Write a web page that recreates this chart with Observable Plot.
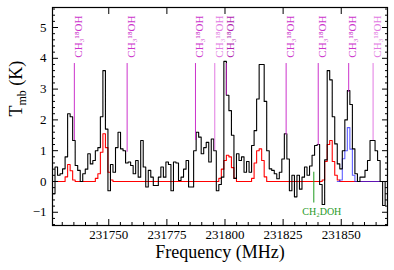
<!DOCTYPE html>
<html><head><meta charset="utf-8">
<script src="https://cdn.jsdelivr.net/npm/d3@7"></script>
<script src="https://cdn.jsdelivr.net/npm/@observablehq/plot@0.6"></script>
<style>body{margin:0;background:#fff}</style>
</head><body><div id="chart"></div>
<script>
// Spectral channel grid (MHz): left edge of first channel and channel width
const chanFreq0 = 231725.8;
const chanWidth = 1.084;

// Observed spectrum, T_mb (K), one value per channel
const observed = [
 -0.4, 0.47, 0.2, 0.25, 0.41, 0.8, 2.2, 2.1, 1.33, 0.52,
 0.36, 0.0, 0.25, 0.4, 0.9, 0.57, 0.68, 1.0, 1.1, 2.1,
 3.6, 1.7, -0.3, 0.55, 0.3, 1.1, 1.6, 1.06, 1.0, 0.6,
 0.63, 0.52, 0.25, 0.68, 0.14, 1.33, 0.47, -0.18, 0.36, 0.14,
 -0.13, -0.13, 0.14, 0.47, 0.14, 0.63, 0.55, -0.3, 0.63, 0.6,
 0.03, 0.14, 0.4, 0.68, -0.18, -0.18, 1.0, 1.6, 1.44, 0.9,
 1.1, 1.27, 0.63, 1.38, 1.0, -0.3, -0.1, 0.14, 3.9, 2.8,
 2.3, 1.5, 0.1, 0.9, 0.68, 0.8, 0.3, 0.65, 0.3, 1.17,
 1.65, 2.68, 3.8, 3.8, 2.6, 1.0, 0.41, 0.36, 0.25, 0.09,
 0.3, 0.73, 1.55, 0.73, -0.3, 0.2, -0.5, 0.2, -0.25, 0.14,
 0.47, 0.2, 0.5, 0.85, 1.17, 1.2, -0.1, -0.75, 0.7, 3.6,
 3.3, 2.1, 1.22, 0.57, 0.41, 1.0, 2.0, 2.95, 2.5, 1.06,
 0.25, 0.0, 0.14, 0.14, 0.36, 0.68, 1.33, 1.33, 1.0, 0.68,
 0.0, -0.78, 0.0, 0.8
];

// Red model (CH3-18OH), same channels
const modelRed = [
 0, 0, 0, 0, 0, 0.15, 0.55, 0.35, 0.05, 0,
 0, 0, 0, 0, 0, 0, 0, 0.1, 0.25, 0.95,
 1.55, 1.1, 0.3, 0.05, 0, 0, 0, 0, 0, 0,
 0, 0, 0, 0, 0, 0, 0, 0, 0, 0,
 0, 0, 0, 0, 0, 0, 0, 0, 0, 0,
 0, 0, 0, 0, 0, 0, 0, 0, 0, 0,
 0, 0, 0, 0, 0, 0, 0.1, 0.4, 0.68, 0.85,
 0.8, 0.45, 0.1, 0, 0, 0, 0, 0, 0, 0.1,
 0.6, 1.0, 1.06, 0.68, 0.15, 0, 0, 0, 0, 0,
 0, 0, 0, 0, 0, 0, 0, 0, 0, 0,
 0, 0, 0, 0, 0, 0, 0, 0.05, 0.65, 1.2,
 1.33, 0.65, 0.2, 0.05, 0, 0, 0, 0, 0, 0,
 0, 0, 0, 0, 0, 0, 0, 0, 0, 0,
 0, 0, 0, 0
];

// Blue model, starting at channel 113
const blueStart = 113;
const modelBlue = [
 0, 0.05, 0.74, 1.0, 1.75, 1.05, 0.2, 0, 0, 0,
 0, 0, 0, 0, 0, 0, 0, 0, 0, 0, 0
];

// CH3-18OH line markers
const lineFreqs = [231735.2, 231757.9, 231787.3, 231795.6, 231800.6, 231826.3, 231840.1, 231853.2, 231863.7];
const lineEnds  = [1.33, 0.95, 1.33, 1.0, 2.8, 1.5, 1.17, 2.9, 1.33];
const lineTop = 3.83;
const lineColors = ["#cc33cc", "#cc33cc", "#cc33cc", "#e27ae2", "#b01eb0", "#cc33cc", "#cc33cc", "#cc33cc", "#e27ae2"];
const lineLabel = "CH₃¹⁸OH";

// CH2DOH marker
const ch2dohFreq = [231838.2];
const ch2dohTop = 0.3;
const ch2dohBottom = -0.7;
const ch2dohLabel = "CH₂DOH";

// Axes
const xTicks = [231750, 231775, 231800, 231825, 231850];
const xMinor = [231730, 231735, 231740, 231745, 231755, 231760, 231765, 231770, 231780, 231785, 231790, 231795,
  231805, 231810, 231815, 231820, 231830, 231835, 231840, 231845, 231855, 231860, 231865];
const yTicks = [-1, 0, 1, 2, 3, 4, 5];
const yMinor = [-1.4, -1.2, -0.8, -0.6, -0.4, -0.2, 0.2, 0.4, 0.6, 0.8, 1.2, 1.4, 1.6, 1.8, 2.2, 2.4, 2.6, 2.8,
  3.2, 3.4, 3.6, 3.8, 4.2, 4.4, 4.6, 4.8, 5.2, 5.4, 5.6];
const xDomain = [231725.8, 231869.9];
const yDomain = [-1.43, 5.65];
const xLabel = "Frequency (MHz)";
const yLabel = "Tmb (K)";

const obsRows = observed.map((v, i) => ({f: chanFreq0 + i * chanWidth, v}));
const redRows = modelRed.map((v, i) => ({f: chanFreq0 + i * chanWidth, v}));
const blueRows = modelBlue.map((v, i) => ({f: chanFreq0 + (blueStart + i) * chanWidth, v}));
const lines = lineFreqs.map((f, i) => ({f, top: lineTop, end: lineEnds[i], c: lineColors[i]}));

const minus = d => d < 0 ? "\u2212" + Math.abs(d) : String(d);
const serif = "'Liberation Serif', 'DejaVu Serif', serif";

const plot = Plot.plot({
  width: 394, height: 270,
  marginTop: 7, marginRight: 7, marginBottom: 45, marginLeft: 52,
  style: {fontFamily: serif, fontSize: "13px", background: "#fff", color: "#000", overflow: "visible"},
  x: {domain: xDomain},
  y: {domain: yDomain},
  marks: [
    Plot.line(redRows, {x: "f", y: "v", curve: "step-after", stroke: "#ff0000", strokeWidth: 1.1, clip: true}),
    Plot.line(blueRows, {x: "f", y: "v", curve: "step-after", stroke: "#1a1aff", strokeOpacity: 0.7, strokeWidth: 1.1, clip: true}),
    Plot.line(obsRows, {x: "f", y: "v", curve: "step-after", stroke: "#000", strokeWidth: 1.1, clip: true}),
    Plot.ruleX(lines, {x: "f", y1: "top", y2: "end", stroke: d => d.c, strokeWidth: 1}),
    Plot.text(lines, {x: "f", text: () => lineLabel, frameAnchor: "top", dy: 8, rotate: -90, textAnchor: "end", fill: d => d.c, fontSize: 11, fontFamily: serif}),
    Plot.ruleX(ch2dohFreq, {x: d => d, y1: ch2dohTop, y2: ch2dohBottom, stroke: "#1f9a1f", strokeWidth: 1}),
    Plot.text(ch2dohFreq, {x: d => d, y: ch2dohBottom, text: () => ch2dohLabel, dy: 8.5, dx: 8, fill: "#1f9a1f", fontSize: 10, fontFamily: serif}),
    Plot.frame({stroke: "#000", strokeWidth: 1.2}),
    Plot.axisX(xTicks, {anchor: "bottom", tickSize: 0, tickPadding: 4, tickFormat: d => String(d), label: null, fontSize: 13, fontFamily: serif}),
    Plot.axisX(xTicks, {anchor: "bottom", tickSize: -6, fill: "none", label: null}),
    Plot.axisX(xMinor, {anchor: "bottom", tickSize: -3, fill: "none", label: null}),
    Plot.axisX(xTicks, {anchor: "top", tickSize: -6, fill: "none", label: null}),
    Plot.axisY(yTicks, {anchor: "left", tickSize: 0, tickPadding: 6, tickFormat: minus, label: null, fontSize: 13, fontFamily: serif}),
    Plot.axisY(yTicks, {anchor: "left", tickSize: -6, fill: "none", label: null}),
    Plot.axisY(yMinor, {anchor: "left", tickSize: -3, fill: "none", label: null}),
    Plot.axisY(yTicks, {anchor: "right", tickSize: -6, fill: "none", label: null}),
    Plot.axisY(yMinor, {anchor: "right", tickSize: -3, fill: "none", label: null}),
    Plot.text([xLabel], {frameAnchor: "bottom", dy: 27, lineAnchor: "middle", text: d => d, fontSize: 18, fontWeight: "normal", fontFamily: serif}),
    Plot.text([yLabel], {frameAnchor: "left", dx: -36, lineAnchor: "middle", rotate: -90, text: d => d, fontSize: 18, fontWeight: "normal", fontFamily: serif})
  ]
});

d3.select(plot).selectAll("text").filter(function() { return this.textContent === yLabel; }).each(function() {
  const t = d3.select(this);
  t.text(null);
  t.append("tspan").text("T");
  t.append("tspan").attr("font-size", 12).attr("dy", 4).text("mb");
  t.append("tspan").attr("dy", -4).text(" (K)");
});

document.getElementById("chart").appendChild(plot);
</script>
</body></html>
